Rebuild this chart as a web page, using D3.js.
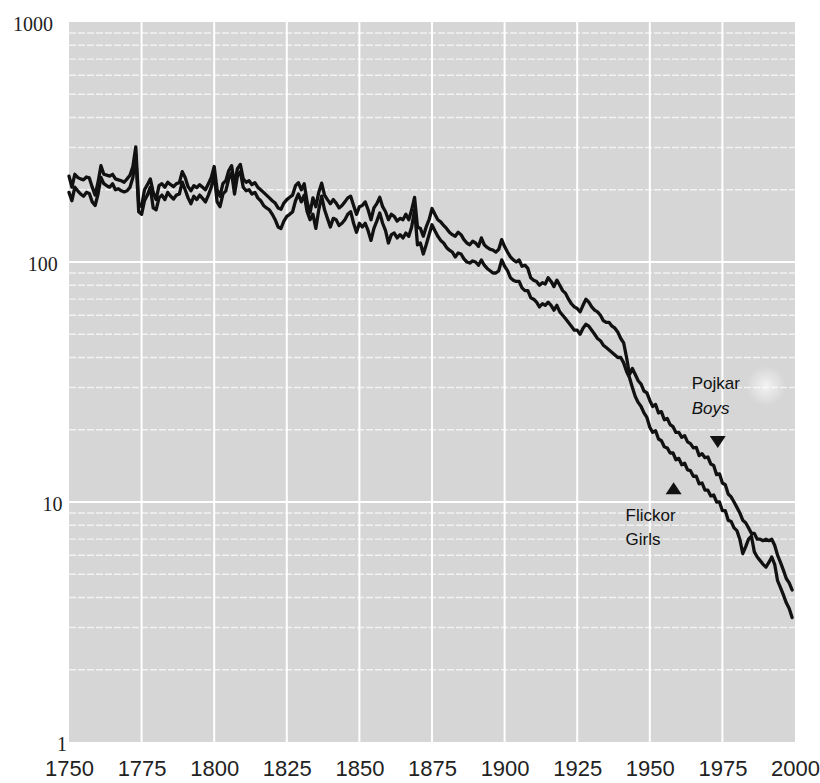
<!DOCTYPE html>
<html>
<head>
<meta charset="utf-8">
<script src="https://cdn.jsdelivr.net/npm/d3@7"></script>
<style>
  body { margin: 0; background: #fff; }
  svg { display: block; }
</style>
</head>
<body>
<svg id="chart" width="820" height="783"></svg>
<script>
// Infant deaths per 1000 live births, Sweden, one value per year from 1750.
const firstYear = 1750;

const boys = [
  228, 205, 232, 225, 222, 220, 226, 224, 205, 190,
  215, 252, 232, 230, 228, 232, 222, 220, 218, 215,
  222, 230, 250, 302, 175, 170, 200, 210, 222, 195,
  182, 208, 212, 205, 215, 210, 206, 212, 214, 238,
  225, 206, 198, 208, 204, 210, 205, 200, 212, 225,
  250, 200, 188, 212, 218, 240, 252, 210, 245, 255,
  222, 215, 218, 210, 214, 205, 200, 195, 190, 185,
  180, 176, 168, 166, 176, 182, 186, 190, 208, 214,
  200, 212, 178, 160, 185, 170, 195, 213, 190, 182,
  175, 182, 176, 168, 172, 178, 185, 188, 172, 158,
  170, 172, 178, 165, 150, 168, 175, 186, 170, 162,
  150, 158, 155, 148, 152, 150, 158, 150, 165, 186,
  140, 138, 128, 140, 150, 167, 158, 150, 147, 142,
  138, 133, 130, 128, 133, 130, 124, 120, 118, 122,
  120, 116, 126, 118, 115, 113, 112, 110, 113, 124,
  116, 110, 105, 102, 100, 102, 96, 97, 94, 86,
  84, 83, 80, 82, 81, 86, 83, 79, 84, 80,
  76, 74, 70, 67, 65, 64, 62, 66, 70, 68,
  65, 63, 62, 60, 57, 56, 56, 54, 53, 51,
  48, 46, 40, 34, 36, 34, 32, 31, 29, 28.5,
  26.5, 25, 25.5, 23.5, 23.8, 22, 22.3, 21, 20.6, 19.5,
  19.5, 18.6, 18.9, 17.8, 17.5, 16.8, 16.9, 15.6, 15.9, 15.3,
  15.4, 14.4, 14.2, 13, 13.1, 12, 11.8, 10.8, 10.5, 10,
  9.5, 9, 8.4, 8.2, 7.8, 7.4, 7.4, 7.0, 7.0, 6.9,
  7.0, 6.9, 7.0, 6.6, 6.0, 5.6, 5.2, 4.8, 4.6, 4.3
];

const girls = [
  195, 180, 205, 198, 192, 188, 195, 193, 178, 172,
  192, 225, 212, 208, 205, 212, 200, 202, 198, 196,
  198, 205, 225, 280, 162, 158, 180, 190, 205, 168,
  165, 185, 190, 182, 195, 188, 183, 190, 192, 215,
  200, 185, 175, 188, 182, 190, 184, 178, 190, 205,
  232, 178, 170, 192, 198, 222, 235, 192, 228, 238,
  205, 198, 200, 192, 195, 185, 180, 172, 168, 165,
  158, 150, 140, 138, 148, 155, 158, 162, 180, 192,
  178, 190, 162, 150, 158, 138, 165, 188, 165, 152,
  140, 152, 150, 142, 145, 150, 158, 162, 145, 133,
  145, 140, 145, 135, 123, 138, 148, 160, 145, 135,
  120, 130, 132, 126, 130, 126, 132, 128, 140, 165,
  118, 120, 108, 118, 130, 143, 135, 128, 123, 120,
  115, 112, 110, 105, 109, 108, 103, 100, 99, 101,
  100, 97, 102, 97, 94, 92, 90, 90, 92, 102,
  96, 92, 86, 84, 83, 83, 78, 76, 76, 71,
  70, 68, 65, 67, 66, 68, 66, 63, 66, 62,
  60, 58, 56, 54, 52, 52, 50, 53, 55, 54,
  52, 50, 48, 47, 45, 44, 43, 42, 41, 40,
  40, 38, 35, 33, 30, 27.5, 26, 25, 23.5, 22.5,
  20.5, 19.5, 19.8, 18.3, 18.0, 17.0, 16.8, 16.0, 16.0, 15.0,
  15.2, 14.3, 14.5, 13.6, 13.5, 12.8, 12.8, 11.9, 12.0, 11.2,
  11.2, 10.6, 10.7, 10.0, 10.0, 9.2, 9.2, 8.4, 8.3, 7.8,
  7.6, 7.0, 6.1, 6.5, 7.0, 7.2, 6.2, 5.9, 5.7, 5.5,
  5.35, 5.6, 5.9, 5.5, 4.7, 4.4, 4.1, 3.8, 3.6, 3.3
];

const yearTicks = [1750, 1775, 1800, 1825, 1850, 1875, 1900, 1925, 1950, 1975, 2000];
const rateTicks = [1, 10, 100, 1000];

// Series notes: marker anchor (year, rate) and two-line caption
const notes = [
  { key: "boys",  year: 1973.4, rate: 17.8, dir: "down", lines: ["Pojkar", "Boys"],  dx: -26, dy: [-53, -28] },
  { key: "girls", year: 1958.2, rate: 11.4, dir: "up",   lines: ["Flickor", "Girls"], dx: -48, dy: [33, 57] }
];

// ---------------------------------------------------------------------------
const svg = d3.select("#chart");
const plotL = 69, plotR = 795, plotT = 22, plotB = 742;

const x = d3.scaleLinear().domain([1750, 2000]).range([plotL, plotR]);
const y = d3.scaleLog().domain([1, 1000]).range([plotB, plotT]);

// plot background
svg.append("rect")
  .attr("x", plotL).attr("y", plotT)
  .attr("width", plotR - plotL).attr("height", plotB - plotT)
  .attr("fill", "#d6d6d6");

// minor log gridlines (2..9 within each decade)
const minor = y.ticks().filter(v => !rateTicks.includes(v));
svg.append("g").selectAll("line").data(minor).join("line")
  .attr("x1", plotL).attr("x2", plotR)
  .attr("y1", d => y(d)).attr("y2", d => y(d))
  .attr("stroke", "#fafafa").attr("stroke-width", 1.3)
  .attr("stroke-dasharray", "7,2").attr("opacity", 0.8);

// major horizontal gridlines
svg.append("g").selectAll("line").data(rateTicks.filter(v => v > 1 && v < 1000)).join("line")
  .attr("x1", plotL).attr("x2", plotR)
  .attr("y1", d => y(d)).attr("y2", d => y(d))
  .attr("stroke", "#fff").attr("stroke-width", 2);

// vertical gridlines every 25 years
svg.append("g").selectAll("line").data(yearTicks.slice(1, -1)).join("line")
  .attr("x1", d => x(d)).attr("x2", d => x(d))
  .attr("y1", plotT).attr("y2", plotB)
  .attr("stroke", "#fff").attr("stroke-width", 2);

// soft light patch beside the boys caption
const defs = svg.append("defs");
const rg = defs.append("radialGradient").attr("id", "glow");
rg.append("stop").attr("offset", "0%").attr("stop-color", "#fff").attr("stop-opacity", 0.7);
rg.append("stop").attr("offset", "100%").attr("stop-color", "#fff").attr("stop-opacity", 0);
svg.append("circle").attr("cx", 766).attr("cy", 386).attr("r", 20).attr("fill", "url(#glow)");

// series lines
const line = d3.line()
  .x((d, i) => x(firstYear + i))
  .y(d => y(d));

[boys, girls].forEach(series => {
  svg.append("path")
    .datum(series)
    .attr("d", line)
    .attr("fill", "none")
    .attr("stroke", "#111")
    .attr("stroke-width", 3.3)
    .attr("stroke-linejoin", "round")
    .attr("stroke-linecap", "round");
});

// y axis labels (right edges drift slightly rightward toward the bottom)
const yAxis = d3.axisLeft(y).tickValues(rateTicks).tickFormat(d3.format("d")).tickSize(0).tickPadding(0);
const gy = svg.append("g").attr("transform", `translate(${plotL - 12},0)`).call(yAxis);
gy.select(".domain").remove();
gy.selectAll("text")
  .attr("font-family", "'Liberation Serif', 'DejaVu Serif', serif")
  .attr("font-size", 20)
  .attr("fill", "#222")
  .attr("dy", "0.42em")
  .attr("dx", d => -4 + (3 - Math.log10(d)) * 4.7);

// x axis labels
const xAxis = d3.axisBottom(x).tickValues(yearTicks).tickFormat(d3.format("d")).tickSize(0).tickPadding(0);
const gx = svg.append("g").attr("transform", `translate(0,${plotB + 21})`).call(xAxis);
gx.select(".domain").remove();
gx.selectAll("text")
  .attr("font-family", "'Liberation Sans Narrow', 'Liberation Sans', Arial, sans-serif")
  .attr("font-size", 22)
  .attr("fill", "#222")
  .attr("dy", "0.6em");

// notes
notes.forEach(n => {
  const cx = x(n.year), cy = y(n.rate);
  const w = 8, h = 6;
  const tri = n.dir === "down"
    ? [[cx - w, cy - h], [cx + w, cy - h], [cx, cy + h]]
    : [[cx - w, cy + h], [cx + w, cy + h], [cx, cy - h]];
  svg.append("path")
    .attr("d", d3.line()(tri) + "Z")
    .attr("fill", "#111");
  n.lines.forEach((t, i) => {
    svg.append("text")
      .attr("x", cx + n.dx)
      .attr("y", cy + n.dy[i])
      .attr("font-family", "'Liberation Sans', Arial, sans-serif")
      .attr("font-size", 17)
      .attr("font-style", i === 1 && n.key === "boys" ? "italic" : "normal")
      .attr("fill", "#111")
      .text(t);
  });
});
</script>
</body>
</html>
